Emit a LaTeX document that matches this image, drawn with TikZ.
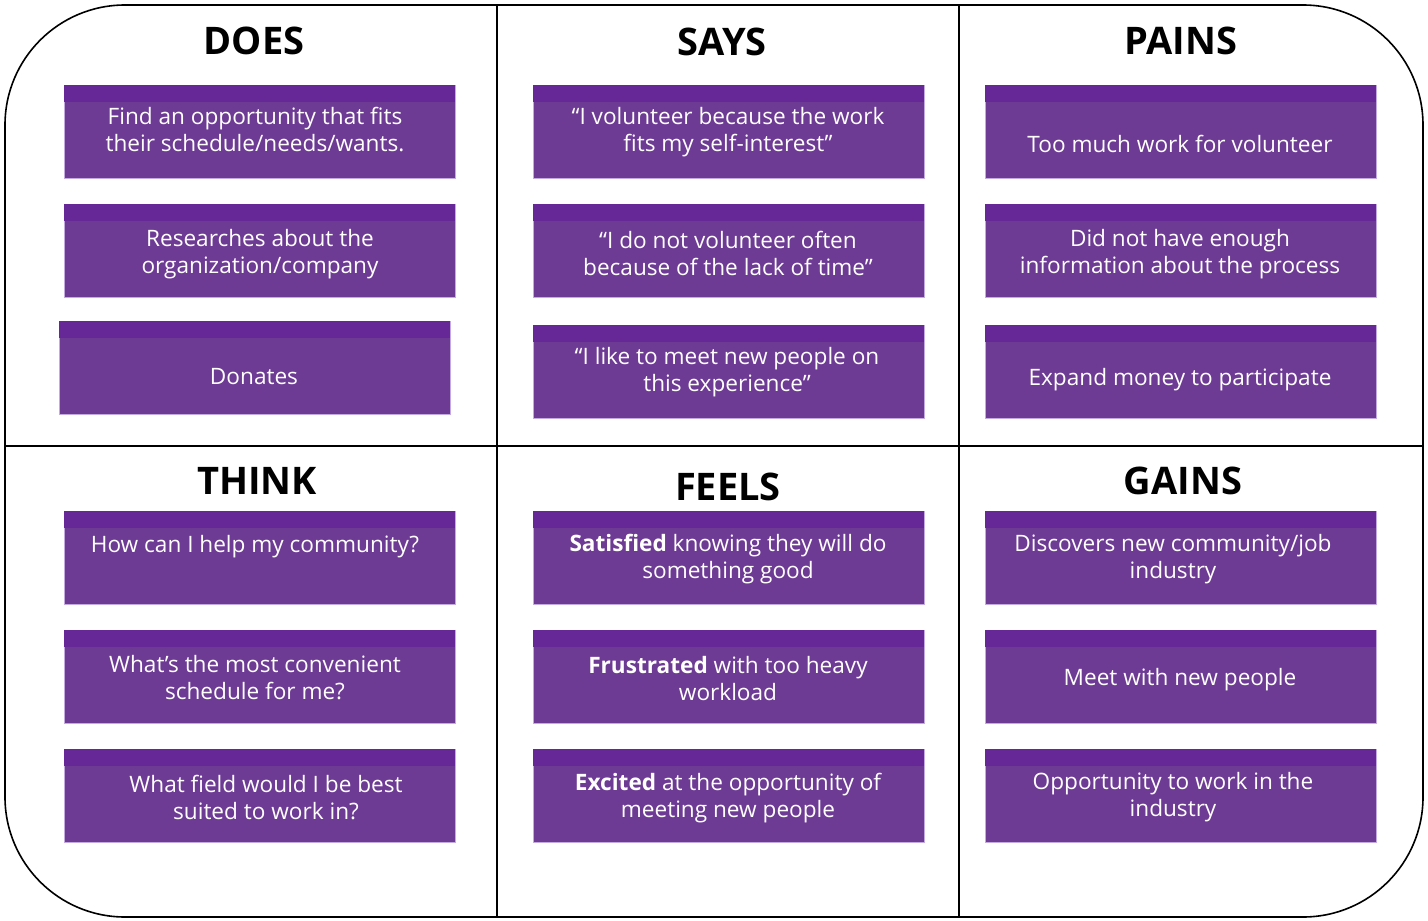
\documentclass[tikz,border=0pt]{standalone}
\usepackage{fontspec}
\setmainfont{Open Sans}
\definecolor{cbody}{RGB}{110,59,148}
\definecolor{cband}{RGB}{103,40,151}
\definecolor{cedge}{RGB}{196,170,224}
\begin{document}
\begin{tikzpicture}[x=1pt,y=-1pt,
  card/.style={fill=cbody, draw=cedge, line width=0.8pt, minimum width=391pt, minimum height=93pt, inner sep=0pt, anchor=north west},
  ctext/.style={text=white, font=\fontsize{22.6}{27}\selectfont, align=center, inner sep=0pt, yshift=-2.5pt},
  head/.style={font=\fontsize{38}{42}\selectfont\bfseries, inner sep=0pt},
  frame/.style={line width=1.6pt, draw=black}]
\useasboundingbox (0,0) rectangle (1428,921);
% outer frame and dividers
\draw[frame, rounded corners=120pt] (5,5) rectangle (1423,917);
\coordinate (v1t) at (497,5); \coordinate (v1b) at (497,917);
\coordinate (v2t) at (959,5); \coordinate (v2b) at (959,917);
\coordinate (hl) at (5,446); \coordinate (hr) at (1423,446);
\draw[frame] (v1t) -- (v1b);
\draw[frame] (v2t) -- (v2b);
\draw[frame] (hl) -- (hr);
% headings
\node[head] (hdoes) at (254,41) {DOES};
\node[head] (hsays) at (722,42) {SAYS};
\node[head] (hpains) at (1181,41) {PAINS};
\node[head] (hthink) at (257,481) {THINK};
\node[head] (hfeels) at (728,487) {FEELS};
\node[head] (hgains) at (1183,481) {GAINS};
% cards
\newcommand{\mkcard}[3]{%
  \node[card] (#1) at (#2,#3) {};
  \fill[cband] ([xshift=0.4pt,yshift=-0.4pt]#1.north west) rectangle ([xshift=-0.4pt,yshift=-16.5pt]#1.north east);
}
\mkcard{d1}{64}{85}
\mkcard{d2}{64}{204}
\mkcard{d3}{59}{321}
\mkcard{s1}{533}{85}
\mkcard{s2}{533}{204}
\mkcard{s3}{533}{325}
\mkcard{p1}{985}{85}
\mkcard{p2}{985}{204}
\mkcard{p3}{985}{325}
\mkcard{t1}{64}{511}
\mkcard{t2}{64}{630}
\mkcard{t3}{64}{749}
\mkcard{f1}{533}{511}
\mkcard{f2}{533}{630}
\mkcard{f3}{533}{749}
\mkcard{g1}{985}{511}
\mkcard{g2}{985}{630}
\mkcard{g3}{985}{749}
% texts
\node[ctext] (d1t) at (255,127) {Find an opportunity that fits\\their schedule/needs/wants.};
\node[ctext] (d2t) at (260,252) {Researches about the\\organization/company};
\node[ctext] (d3t) at (254,374) {Donates};
\node[ctext] (s1t) at (728,130) {“I volunteer because the work\\fits my self-interest”};
\node[ctext] (s2t) at (728,251) {“I do not volunteer often\\because of the lack of time”};
\node[ctext] (s3t) at (727,370) {“I like to meet new people on\\this experience”};
\node[ctext] (p1t) at (1180,141) {Too much work for volunteer};
\node[ctext] (p2t) at (1180,252) {Did not have enough\\information about the process};
\node[ctext] (p3t) at (1180,377) {Expand money to participate};
\node[ctext] (t1t) at (255,544) {How can I help my community?};
\node[ctext] (t2t) at (255,675) {What’s the most convenient\\schedule for me?};
\node[ctext] (t3t) at (266,795) {What field would I be best\\suited to work in?};
\node[ctext] (f1t) at (728,557) {\textbf{Satisfied} knowing they will do\\something good};
\node[ctext] (f2t) at (728,676) {\textbf{Frustrated} with too heavy\\workload};
\node[ctext] (f3t) at (728,796) {\textbf{Excited} at the opportunity of\\meeting new people};
\node[ctext] (g1t) at (1173,557) {Discovers new community/job\\industry};
\node[ctext] (g2t) at (1180,677) {Meet with new people};
\node[ctext] (g3t) at (1173,795) {Opportunity to work in the\\industry};
\end{tikzpicture}
\end{document}
